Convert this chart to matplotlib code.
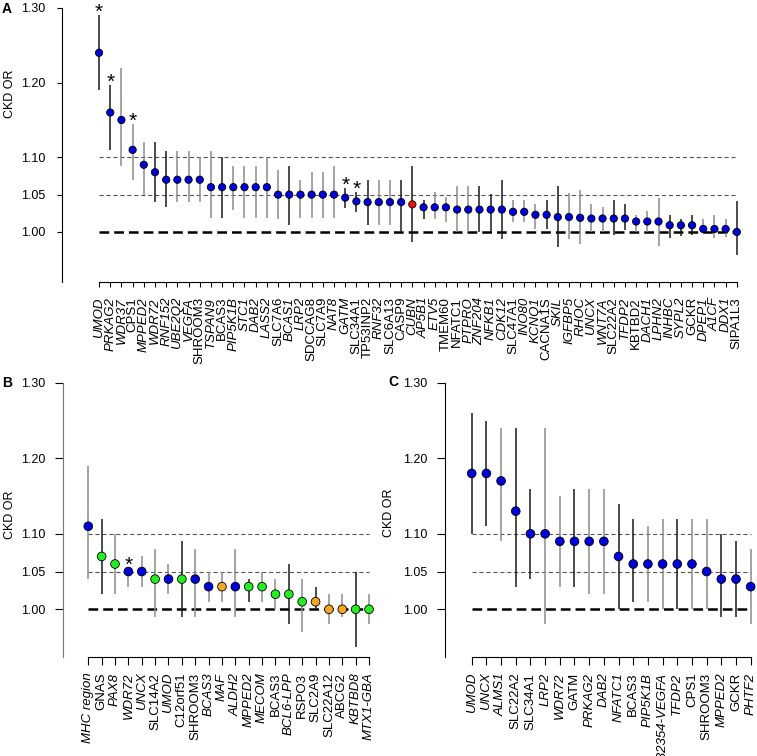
import numpy as np
import matplotlib
matplotlib.use("Agg")
import matplotlib.pyplot as plt

plt.rcParams['font.family'] = ['Liberation Sans', 'DejaVu Sans']
plt.rcParams['lines.scale_dashes'] = False

# ---------------- data ----------------
# Panel A
genes_a = ["UMOD", "PRKAG2", "WDR37", "CPS1", "MPPED2", "WDR72", "RNF152", "UBE2Q2", "VEGFA",
           "SHROOM3", "TSPAN9", "BCAS3", "PIP5K1B", "STC1", "DAB2", "LASS2", "SLC7A6", "BCAS1",
           "LRP2", "SDCCAG8", "SLC7A9", "NAT8", "GATM", "SLC34A1", "TP53INP2", "RNF32", "SLC6A13",
           "CASP9", "CUBN", "AP5B1", "ETV5", "TMEM60", "NFATC1", "PTPRO", "ZNF204", "NFKB1", "CDK12",
           "SLC47A1", "INO80", "KCNQ1", "CACNA1S", "SKIL", "IGFBP5", "RHOC", "UNCX", "WNT7A",
           "SLC22A2", "TFDP2", "KBTBD2", "DACH1", "LPHN2", "INHBC", "SYPL2", "GCKR", "DPEP1",
           "A1CF", "DDX1", "SIPA1L3"]
or_a = [1.24, 1.16, 1.15, 1.11, 1.09, 1.08, 1.07, 1.07, 1.07, 1.07, 1.06, 1.06, 1.06, 1.06,
        1.06, 1.06, 1.05, 1.05, 1.05, 1.05, 1.05, 1.05, 1.046, 1.041, 1.04, 1.04, 1.04, 1.04,
        1.037, 1.033, 1.033, 1.033, 1.03, 1.03, 1.03, 1.03, 1.03, 1.027, 1.027, 1.023, 1.023,
        1.02, 1.02, 1.019, 1.018, 1.018, 1.018, 1.018, 1.014, 1.014, 1.014, 1.009, 1.009,
        1.009, 1.004, 1.004, 1.004, 1.00]
lo_a = [1.19, 1.11, 1.089, 1.07, 1.05, 1.04, 1.034, 1.04, 1.04, 1.04, 1.019, 1.019, 1.03, 1.019,
        1.019, 1.019, 1.017, 1.01, 1.019, 1.019, 1.019, 1.019, 1.032, 1.027, 1.01, 1.01, 1.01,
        1.00, 0.987, 1.018, 1.018, 1.014, 1.00, 1.00, 1.00, 1.00, 0.99, 1.014, 1.014, 1.004,
        1.004, 0.98, 0.99, 0.984, 1.00, 1.00, 0.996, 1.003, 1.00, 1.00, 0.981, 0.992, 0.995,
        0.996, 0.998, 0.992, 0.993, 0.969]
hi_a = [1.29, 1.197, 1.22, 1.145, 1.12, 1.12, 1.109, 1.109, 1.109, 1.10, 1.109, 1.10, 1.089,
        1.089, 1.089, 1.10, 1.083, 1.089, 1.07, 1.08, 1.08, 1.089, 1.059, 1.053, 1.07, 1.07,
        1.07, 1.07, 1.088, 1.043, 1.053, 1.047, 1.062, 1.062, 1.062, 1.051, 1.07, 1.043, 1.043,
        1.0375, 1.043, 1.061, 1.052, 1.056, 1.038, 1.033, 1.043, 1.037, 1.023, 1.028, 1.046,
        1.023, 1.018, 1.023, 1.018, 1.023, 1.018, 1.041]
dark_a = [1, 1, 0, 0, 0, 1, 1, 0, 0, 0, 0, 1, 0, 0, 0, 0, 0, 1, 0, 0, 0, 0, 1, 1, 1, 0, 0, 1,
          1, 1, 0, 0, 0, 0, 1, 1, 1, 0, 0, 0, 1, 1, 0, 0, 0, 0, 1, 1, 0, 0, 0, 1, 1, 1, 0, 0, 0, 1]
upright_a = ["CPS1", "SHROOM3", "BCAS3", "SLC7A6", "SDCCAG8", "SLC7A9", "SLC34A1", "TP53INP2",
             "SLC6A13", "CASP9", "TMEM60", "NFATC1", "SLC47A1", "CACNA1S", "SLC22A2", "KBTBD2",
             "GCKR", "SIPA1L3"]
star_a = ["UMOD", "PRKAG2", "CPS1", "GATM", "SLC34A1"]
col_a = ["blue"] * 58
col_a[28] = "red"

# Panel B
genes_b = ["MHC region", "GNAS", "PAX8", "WDR72", "UNCX", "SLC14A2", "UMOD", "C12orf51",
           "SHROOM3", "BCAS3", "MAF", "ALDH2", "MPPED2", "MECOM", "BCAS3", "BCL6-LPP", "RSPO3",
           "SLC2A9", "SLC22A12", "ABCG2", "KBTBD8", "MTX1-GBA"]
or_b = [1.11, 1.07, 1.06, 1.05, 1.05, 1.04, 1.04, 1.04, 1.04, 1.03, 1.03, 1.03, 1.03, 1.03,
        1.02, 1.02, 1.01, 1.01, 1.00, 1.00, 1.00, 1.00]
lo_b = [1.04, 1.02, 1.02, 1.03, 1.03, 0.99, 1.02, 0.99, 0.99, 1.01, 1.01, 0.99, 1.01, 1.01,
        1.00, 0.98, 0.97, 1.00, 0.98, 0.99, 0.95, 0.98]
hi_b = [1.19, 1.12, 1.10, 1.055, 1.07, 1.08, 1.06, 1.09, 1.08, 1.05, 1.05, 1.08, 1.04, 1.05,
        1.04, 1.06, 1.04, 1.03, 1.02, 1.02, 1.05, 1.02]
dark_b = [0, 1, 0, 0, 0, 0, 0, 1, 0, 0, 0, 0, 1, 0, 0, 1, 0, 1, 0, 0, 1, 0]
col_b = ["blue", "green", "green", "blue", "blue", "green", "blue", "green", "blue", "blue",
         "orange", "blue", "green", "green", "green", "green", "green", "orange", "orange",
         "orange", "green", "green"]
upright_b_idx = [1, 5, 7, 8, 14, 16, 17, 18, 19]
star_b = [3]

# Panel C
genes_c = ["UMOD", "UNCX", "ALMS1", "SLC22A2", "SLC34A1", "LRP2", "WDR72", "GATM", "PRKAG2",
           "DAB2", "NFATC1", "BCAS3", "PIP5K1B", "LOC100132354-VEGFA", "TFDP2", "CPS1",
           "SHROOM3", "MPPED2", "GCKR", "PHTF2"]
or_c = [1.18, 1.18, 1.17, 1.13, 1.10, 1.10, 1.09, 1.09, 1.09, 1.09, 1.07, 1.06, 1.06, 1.06,
        1.06, 1.06, 1.05, 1.04, 1.04, 1.03]
lo_c = [1.10, 1.11, 1.09, 1.03, 1.04, 0.98, 1.03, 1.03, 1.02, 1.02, 1.00, 1.01, 1.01, 1.00,
        1.00, 1.00, 1.00, 0.99, 0.99, 0.98]
hi_c = [1.26, 1.25, 1.24, 1.24, 1.16, 1.24, 1.15, 1.16, 1.16, 1.16, 1.14, 1.12, 1.11, 1.12,
        1.12, 1.12, 1.12, 1.10, 1.09, 1.08]
dark_c = [1, 1, 0, 1, 1, 0, 0, 1, 0, 0, 1, 1, 0, 0, 1, 0, 0, 1, 1, 0]
upright_c = ["SLC22A2", "SLC34A1", "GATM", "BCAS3", "CPS1", "SHROOM3", "GCKR"]
col_c = ["blue"] * 20

yticks = [1.00, 1.05, 1.10, 1.20, 1.30]

palette = {"blue": "#0000DD", "green": "#22EE22", "orange": "#F5A623", "red": "#EE1111"}

W, H = 757, 756
fig = plt.figure(figsize=(W / 100, H / 100), dpi=100)


def rect(x0, x1, top, bottom):
    return [x0 / W, 1 - bottom / H, (x1 - x0) / W, (bottom - top) / H]


def panel(box, xlim, ylim, genes, ors, los, his, dark, cols, upright_idx, stars, ms, tl,
          xpad, ypad, spine_col="black"):
    ax = fig.add_axes(rect(*box))
    n = len(genes)
    x = np.arange(n)
    ax.hlines([1.05, 1.10], 0, n - 1, colors="#555555", lw=0.8,
              linestyles=[(0, (3, 2))], zorder=1)
    ax.hlines(1.00, 0, n - 1, colors="black", lw=1.8, linestyles=[(0, (7, 3.6))], zorder=1)
    lc = ["#1a1a1a" if d else "#8c8c8c" for d in dark]
    ax.vlines(x, los, his, colors=lc, lw=1.1, zorder=2)
    ax.scatter(x, ors, s=ms ** 2, c=[palette[c] for c in cols], edgecolors="black",
               linewidths=0.6, zorder=3)
    for i in stars:
        ax.text(i, his[i] - 0.009, "*", ha="center", va="bottom", fontsize=15,
                clip_on=False, zorder=4)
    ax.set_xlim(*xlim)
    ax.set_ylim(*ylim)
    ax.set_yticks(yticks)
    ax.set_yticklabels(["%.2f" % v for v in yticks])
    ax.set_xticks(x)
    ax.set_xticklabels(genes, rotation=90, fontsize=9.5)
    for i, lab in enumerate(ax.get_xticklabels()):
        lab.set_fontstyle("normal" if i in upright_idx else "italic")
    for s in ["top", "right"]:
        ax.spines[s].set_visible(False)
    ax.spines["left"].set_bounds(ylim[0], 1.30)
    ax.spines["left"].set_color(spine_col)
    ax.spines["bottom"].set_bounds(0, n - 1)
    ax.tick_params(axis="y", direction="out", length=tl, width=0.8, labelsize=9, pad=ypad)
    ax.tick_params(axis="x", direction="out", length=tl, width=0.8, pad=xpad)
    return ax


up_a = [genes_a.index(g) for g in upright_a]
st_a = [genes_a.index(g) for g in star_a]
panel((62, 745, 0, 282), (-3.31, 57.73), (0.933, 1.3107), genes_a, or_a, lo_a, hi_a, dark_a,
      col_a, up_a, st_a, 7.3 * 0.72, 3.8, 7, 8.4)

panel((63, 378, 378, 657), (-1.89, 21.67), (0.9368, 1.3064), genes_b, or_b, lo_b, hi_b,
      dark_b, col_b, upright_b_idx, star_b, 8.7 * 0.72, 5.5, 5.8, 7.5, spine_col="#777777")

up_c = [genes_c.index(g) for g in upright_c]
panel((445, 757, 378, 657), (-1.82, 19.43), (0.9368, 1.3064), genes_c, or_c, lo_c, hi_c,
      dark_c, col_c, up_c, [], 8.7 * 0.72, 5.5, 5.8, 7.5)

# panel letters and axis titles
for lab, px, py in [("A", 7, 9), ("B", 7, 383), ("C", 393, 382)]:
    fig.text(px / W, 1 - py / H, lab, fontsize=10, fontweight="bold", ha="center", va="center")
for px, py in [(10, 94), (10, 515), (389, 513)]:
    fig.text(px / W, 1 - py / H, "CKD OR", fontsize=9, rotation=90, ha="center", va="center")

fig.savefig("out.png", dpi=100)
